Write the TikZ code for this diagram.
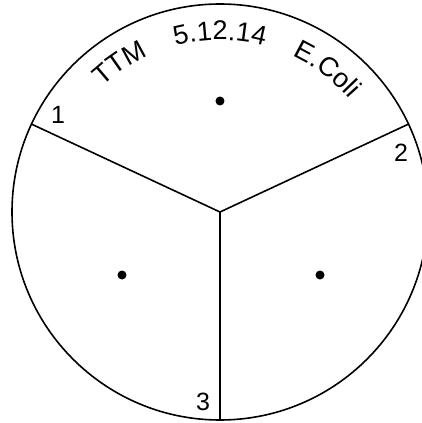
\documentclass[tikz,border=0pt]{standalone}
\usepackage{fontspec}
\setmainfont{Liberation Sans}
\usetikzlibrary{decorations.text}
\tikzset{
  rim/.style={line width=1.6pt},
  divider/.style={line width=1.6pt},
  spot/.style={circle, fill=black, inner sep=0pt, minimum size=9pt},
  num/.style={font=\fontsize{25}{29}\selectfont, inner sep=0pt},
  arctext/.style={decorate, decoration={text along path, text align=center,
     text={|\fontsize{27}{31}\selectfont|#1}}}
}
\begin{document}
\begin{tikzpicture}[x=1pt,y=1pt]
\useasboundingbox (-220,-211) rectangle (202,212);
\clip (-220,-211) rectangle (202,212);
\coordinate (c) at (0,0);
\draw[rim] (c) circle[radius=208];
\coordinate (p1) at (155:208);
\coordinate (p2) at (25:208);
\coordinate (p3) at (270:208);
\draw[divider] (c) -- (p1);
\draw[divider] (c) -- (p2);
\draw[divider] (c) -- (p3);
\node[spot] (d1) at (0,111) {};
\node[spot] (d2) at (-98,-63) {};
\node[spot] (d3) at (100,-63) {};
\node[num] (n1) at (-162,97) {1};
\node[num] (n2) at (181,59) {2};
\node[num] (n3) at (-17,-190) {3};
\path[arctext={TTM}] (144:172) arc[start angle=144, end angle=104, radius=172];
\path[arctext={5.12.14}] (115:172) arc[start angle=115, end angle=65, radius=172];
\path[arctext={E.Coli}] (78:172) arc[start angle=78, end angle=28, radius=172];
\end{tikzpicture}
\end{document}
